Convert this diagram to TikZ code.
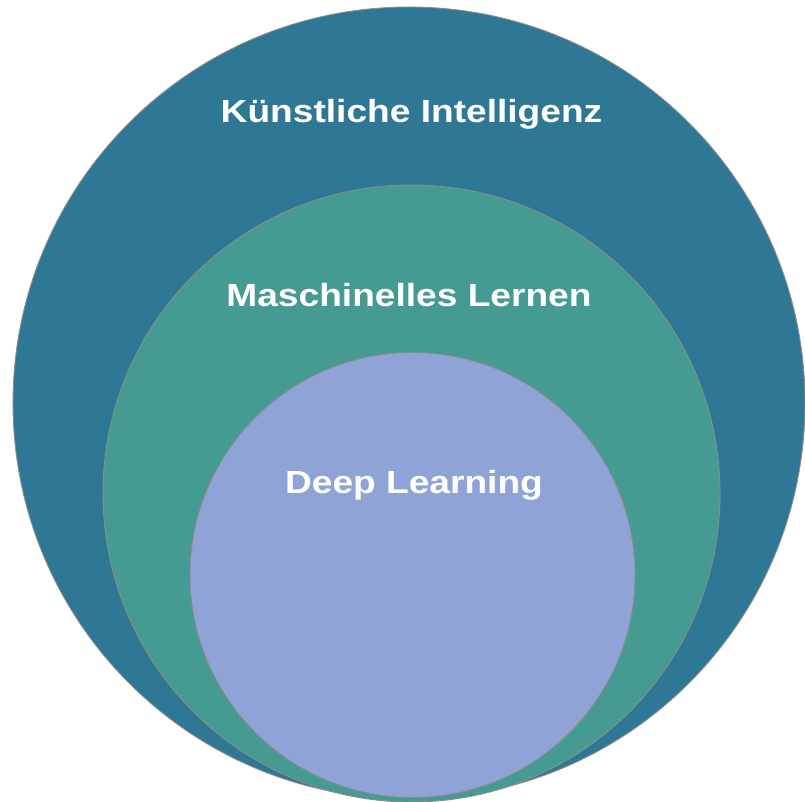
\documentclass[tikz,border=0pt]{standalone}
\usepackage{fontspec}
\setmainfont{Liberation Sans}
\definecolor{kiblue}{HTML}{2E7896}
\definecolor{mlteal}{HTML}{459A92}
\definecolor{dlviolet}{HTML}{8FA3D6}
\definecolor{rimgray}{HTML}{8C8C8C}
\begin{document}
\begin{tikzpicture}[x=1pt,y=1pt,
  ring/.style={circle, inner sep=0pt, draw=rimgray, line width=0.9pt},
  lbl/.style={text=white, font=\fontsize{32}{38}\selectfont\bfseries, anchor=base, xscale=1.16, transform shape, inner sep=0pt}]
\useasboundingbox (0,0) rectangle (805,801);
\node[ring, fill=kiblue, minimum size=792pt] (ki) at (409,398) {};
\node[ring, fill=mlteal, minimum size=617pt] (ml) at (411.5,307.5) {};
\node[ring, fill=dlviolet, minimum size=445pt] (dl) at (412.5,226) {};
\node[lbl] (tki) at (411.5,678) {Künstliche Intelligenz};
\node[lbl] (tml) at (409,494) {Maschinelles Lernen};
\node[lbl] (tdl) at (414,308) {Deep Learning};
\end{tikzpicture}
\end{document}
